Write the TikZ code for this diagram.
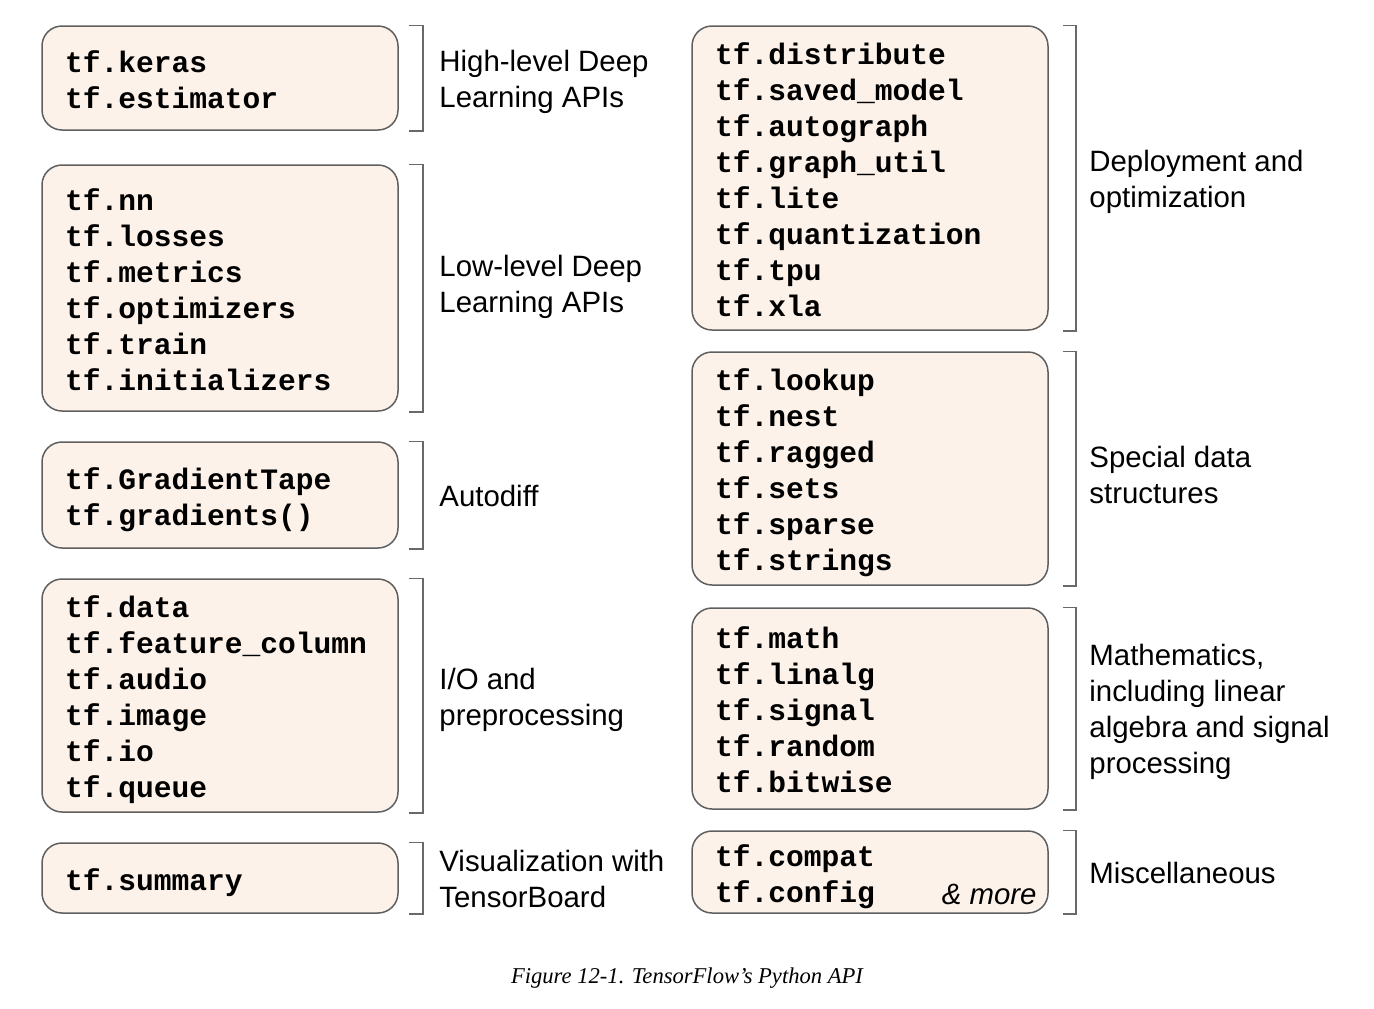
\documentclass[tikz,border=0pt]{standalone}
\usepackage{fontspec}
\setmainfont{Liberation Serif}
\setsansfont{Liberation Sans}
\setmonofont{Liberation Mono}
\usepackage{tikz}
\usetikzlibrary{calc}

\definecolor{boxfill}{RGB}{252,242,233}
\definecolor{boxline}{RGB}{95,95,95}
\definecolor{brkline}{RGB}{105,105,105}

\tikzset{
  apibox/.style={draw=boxline, fill=boxfill, line width=0.75pt, rounded corners=10pt,
    text width=155pt, inner xsep=11.5pt, inner ysep=0pt, minimum width=178pt,
    align=left, font=\fontsize{14.8}{18}\selectfont\ttfamily\bfseries,
    execute at begin node={\rule{0pt}{16pt}},
    execute at end node={\rule[-4pt]{0pt}{4pt}}},
  grouplbl/.style={anchor=west, inner sep=0pt, align=left,
    font=\fontsize{14.7}{18}\selectfont\sffamily},
  brk/.style={draw=brkline, line width=0.75pt}
}

\begin{document}
\begin{tikzpicture}[x=0.5pt,y=-0.5pt]
        \useasboundingbox (0,0) rectangle (1374,1008);

        % left column
        \node[apibox, minimum height=52pt] (keras) at (220,78) {tf.keras\\tf.estimator};
        \node[apibox, minimum height=123pt] (lowlevel) at (220,288) {tf.nn\\tf.losses\\tf.metrics\\tf.optimizers\\tf.train\\tf.initializers};
        \node[apibox, minimum height=53pt] (autodiff) at (220,495) {tf.GradientTape\\tf.gradients()};
        \node[apibox, minimum height=116.5pt] (iopre) at (220,695.5) {tf.data\\tf.feature\_column\\tf.audio\\tf.image\\tf.io\\tf.queue};
        \node[apibox, minimum height=35pt] (summary) at (220,878) {tf.summary};

        % right column
        \node[apibox, minimum height=152pt] (deploy) at (870,178) {tf.distribute\\tf.saved\_model\\tf.autograph\\tf.graph\_util\\tf.lite\\tf.quantization\\tf.tpu\\tf.xla};
        \node[apibox, minimum height=116.5pt] (special) at (870,468.5) {tf.lookup\\tf.nest\\tf.ragged\\tf.sets\\tf.sparse\\tf.strings};
        \node[apibox, minimum height=100.5pt] (mathbox) at (870,708.5) {tf.math\\tf.linalg\\tf.signal\\tf.random\\tf.bitwise};
        \node[apibox, minimum height=41pt] (misc) at (870,872) {tf.compat\\tf.config};
        \node[anchor=base east, inner sep=0pt, font=\fontsize{14.7}{18}\selectfont\sffamily\itshape] (more) at (1037,904) {\& more};

        % brackets
        \foreach \b in {keras,lowlevel,autodiff,iopre,summary}
          \draw[brk] ([xshift=5pt]\b.north east) -- ++(7pt,0) |- ([xshift=5pt]\b.south east);
        \foreach \b in {deploy,special,mathbox,misc}
          \draw[brk] ([xshift=7pt]\b.north east) -- ++(6.5pt,0) |- ([xshift=7pt]\b.south east);

        % group labels
        \node[grouplbl] (lblhigh) at (439,82) {High-level Deep\\Learning APIs};
        \node[grouplbl] (lbllow) at (439,287) {Low-level Deep\\Learning APIs};
        \node[grouplbl] (lbldiff) at (439,496) {Autodiff};
        \node[grouplbl] (lblio) at (439,699.5) {I/O and\\preprocessing};
        \node[grouplbl] (lblviz) at (439,879) {Visualization with\\TensorBoard};
        \node[grouplbl] (lbldeploy) at (1089,182) {Deployment and\\optimization};
        \node[grouplbl] (lblspecial) at (1089,475) {Special data\\structures};
        \node[grouplbl] (lblmath) at (1089,711.5) {Mathematics,\\including linear\\algebra and signal\\processing};
        \node[grouplbl] (lblmisc) at (1089,873) {Miscellaneous};

        % caption
        \node[font=\fontsize{11.3}{13}\selectfont\rmfamily\itshape] (caption) at (687,978) {Figure 12-1. TensorFlow’s Python API};
\end{tikzpicture}
\end{document}
